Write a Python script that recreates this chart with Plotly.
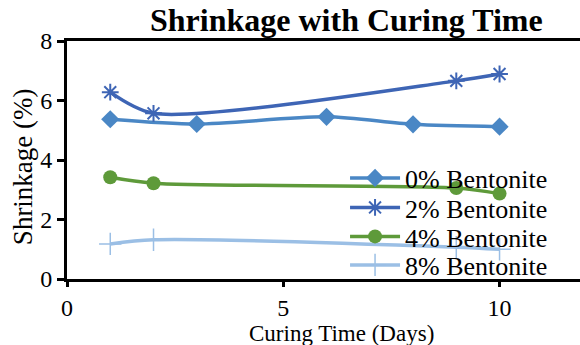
import plotly.graph_objects as go

# Curing time (days) and measured shrinkage (%) for each bentonite content
days_0 = [1, 3, 6, 8, 10]
shrink_0 = [5.37, 5.21, 5.45, 5.20, 5.12]

days_2 = [1, 2, 9, 10]
shrink_2 = [6.28, 5.57, 6.66, 6.89]

days_4 = [1, 2, 9, 10]
shrink_4 = [3.42, 3.22, 3.06, 2.87]

days_8 = [1, 2, 9, 10]
shrink_8 = [1.18, 1.32, 1.07, 1.00]

x_ticks = [0, 5, 10]
y_ticks = [0, 2, 4, 6, 8]

FONT = "Liberation Serif"

series = [
    ("0% Bentonite", days_0, shrink_0, "#4A87C5", dict(symbol="diamond", size=14)),
    ("2% Bentonite", days_2, shrink_2, "#3E65B5", dict(symbol="asterisk-open", size=14, line=dict(width=2, color="#3E65B5"))),
    ("4% Bentonite", days_4, shrink_4, "#5E9A3A", dict(symbol="circle", size=14)),
    ("8% Bentonite", days_8, shrink_8, "#9BBFE5", dict(symbol="cross-thin-open", size=16, line=dict(width=1.5, color="#9BBFE5"))),
]

# plot area in pixels: left 67, bottom 279, width 513, height 238
PLOT_H = 238
legend_rows_px = [178, 207.5, 236.5, 265]  # vertical centre of each legend entry

fig = go.Figure()
legend_layout = {}
for i, (name, xs, ys, color, marker) in enumerate(series):
    marker = dict(marker)
    marker["color"] = color
    key = "legend" if i == 0 else f"legend{i + 1}"
    fig.add_trace(go.Scatter(
        x=xs, y=ys, name=name, mode="lines+markers",
        line=dict(color=color, width=3.5, shape="spline", smoothing=0.8),
        marker=marker, legend=key,
    ))
    legend_layout[key] = dict(
        x=0.542, y=(279 - legend_rows_px[i]) / PLOT_H,
        xanchor="left", yanchor="middle",
        bgcolor="rgba(0,0,0,0)", itemwidth=50,
        font=dict(family=FONT, size=26, color="black"),
    )

axis_common = dict(
    showgrid=False, zeroline=False, showline=True, linecolor="black",
    linewidth=3, ticks="outside", tickcolor="black", tickwidth=3,
    tickfont=dict(family=FONT, size=24, color="black"),
)

fig.update_xaxes(range=[0, 11.86], tickvals=x_ticks, ticklen=5, mirror=True, **axis_common)
fig.update_yaxes(range=[0, 8], tickvals=y_ticks, ticklen=7, **axis_common)

fig.update_layout(
    width=580, height=345,
    margin=dict(l=67, r=0, t=41, b=66),
    paper_bgcolor="white", plot_bgcolor="white",
    font=dict(family=FONT, color="black"),
    showlegend=True,
    **legend_layout,
    annotations=[
        dict(text="<b>Shrinkage with Curing Time</b>", xref="paper", yref="paper",
             x=(346 - 67) / 513, y=1.0, yshift=21, xanchor="center", yanchor="middle",
             showarrow=False, font=dict(family=FONT, size=32, color="black")),
        dict(text="Curing Time (Days)", xref="paper", yref="paper",
             x=(341 - 67) / 513, y=0, yshift=-54, xanchor="center", yanchor="middle",
             showarrow=False, font=dict(family=FONT, size=23, color="black")),
        dict(text="Shrinkage (%)", xref="paper", yref="paper",
             x=0, xshift=-44, y=0.47, xanchor="center", yanchor="middle",
             textangle=-90, showarrow=False,
             font=dict(family=FONT, size=27, color="black")),
    ],
)

fig.write_html("out.html")
